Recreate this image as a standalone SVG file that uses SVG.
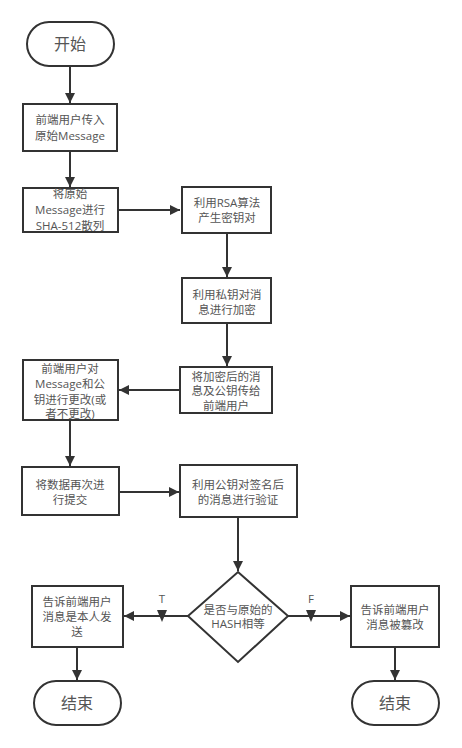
<svg xmlns="http://www.w3.org/2000/svg" width="462" height="748" viewBox="0 0 462 748">
<defs>
<marker id="arr" viewBox="0 0 10 10" refX="10" refY="5" markerWidth="5" markerHeight="5" orient="auto" markerUnits="strokeWidth">
<path d="M0,0 L10,5 L0,10 Z" fill="#333"/>
</marker>
</defs>
<style>
.n{fill:#fff;stroke:#333;stroke-width:2}
.t{font-family:"Open Sans","Noto Sans CJK SC",sans-serif;font-size:11.5px;fill:#555;text-anchor:middle}
.big{font-size:16px}
.c{fill:none;stroke:#333;stroke-width:2}
.m{fill:#333}
</style>
<rect width="462" height="748" fill="#fff"/>
<g id="connectors">
<path class="c" d="M70,66 V103" marker-end="url(#arr)"/>
<path class="c" d="M70,151 V187" marker-end="url(#arr)"/>
<path class="c" d="M118,210 H180" marker-end="url(#arr)"/>
<path class="c" d="M227,233 V277" marker-end="url(#arr)"/>
<path class="c" d="M227,323 V366" marker-end="url(#arr)"/>
<path class="c" d="M180,390 H119" marker-end="url(#arr)"/>
<path class="c" d="M70,420 V466" marker-end="url(#arr)"/>
<path class="c" d="M119,492 H179" marker-end="url(#arr)"/>
<path class="c" d="M238,517 V571" marker-end="url(#arr)"/>
<path class="c" d="M188,616 H124" marker-end="url(#arr)"/>
<path class="c" d="M288,616 H350" marker-end="url(#arr)"/>
<path class="c" d="M77,647 V680" marker-end="url(#arr)"/>
<path class="c" d="M395,647 V680" marker-end="url(#arr)"/>
<path class="m" d="M157,610 L167,610 L162,622 Z"/>
<path class="m" d="M306,610 L316,610 L311,622 Z"/>
<text class="t" x="162" y="603">T</text>
<text class="t" x="311" y="603">F</text>
</g>
<g id="start">
<rect class="n" x="27" y="22" width="87" height="44" rx="22" ry="22"/>
<text class="t big" x="70" y="50">开始</text>
</g>
<g id="n1">
<rect class="n" x="23" y="104" width="94" height="47"/>
<text class="t" x="70" y="124">前端用户传入</text>
<text class="t" x="70" y="140">原始Message</text>
</g>
<g id="n2">
<rect class="n" x="23" y="188" width="95" height="44"/>
<text class="t" x="70" y="198">将原始</text>
<text class="t" x="70" y="214">Message进行</text>
<text class="t" x="70" y="230">SHA-512散列</text>
</g>
<g id="n3">
<rect class="n" x="182" y="187" width="89" height="46"/>
<text class="t" x="227" y="207">利用RSA算法</text>
<text class="t" x="227" y="222">产生密钥对</text>
</g>
<g id="n4">
<rect class="n" x="182" y="278" width="89" height="45"/>
<text class="t" x="227" y="299">利用私钥对消</text>
<text class="t" x="227" y="314">息进行加密</text>
</g>
<g id="n5">
<rect class="n" x="180" y="367" width="92" height="46"/>
<text class="t" x="226" y="381">将加密后的消</text>
<text class="t" x="226" y="395">息及公钥传给</text>
<text class="t" x="226" y="410">前端用户</text>
</g>
<g id="n6">
<rect class="n" x="23" y="360" width="95" height="60"/>
<text class="t" x="70" y="373">前端用户对</text>
<text class="t" x="70" y="388">Message和公</text>
<text class="t" x="70" y="404">钥进行更改(或</text>
<text class="t" x="70" y="418">者不更改)</text>
</g>
<g id="n7">
<rect class="n" x="22" y="467" width="97" height="48"/>
<text class="t" x="70" y="489">将数据再次进</text>
<text class="t" x="70" y="504">行提交</text>
</g>
<g id="n8">
<rect class="n" x="180" y="465" width="117" height="52"/>
<text class="t" x="238" y="489">利用公钥对签名后</text>
<text class="t" x="238" y="504">的消息进行验证</text>
</g>
<g id="decision">
<path class="n" d="M238,572 L288,616 L238,662 L188,616 Z"/>
<text class="t" x="238" y="614">是否与原始的</text>
<text class="t" x="238" y="628">HASH相等</text>
</g>
<g id="n9">
<rect class="n" x="32" y="586" width="91" height="61"/>
<text class="t" x="77" y="606">告诉前端用户</text>
<text class="t" x="77" y="621">消息是本人发</text>
<text class="t" x="77" y="636">送</text>
</g>
<g id="n10">
<rect class="n" x="351" y="586" width="88" height="61"/>
<text class="t" x="395" y="614">告诉前端用户</text>
<text class="t" x="395" y="629">消息被篡改</text>
</g>
<g id="end1">
<rect class="n" x="34" y="681" width="87" height="44" rx="22" ry="22"/>
<text class="t big" x="77" y="709">结束</text>
</g>
<g id="end2">
<rect class="n" x="352" y="681" width="87" height="44" rx="22" ry="22"/>
<text class="t big" x="395" y="709">结束</text>
</g>
</svg>
